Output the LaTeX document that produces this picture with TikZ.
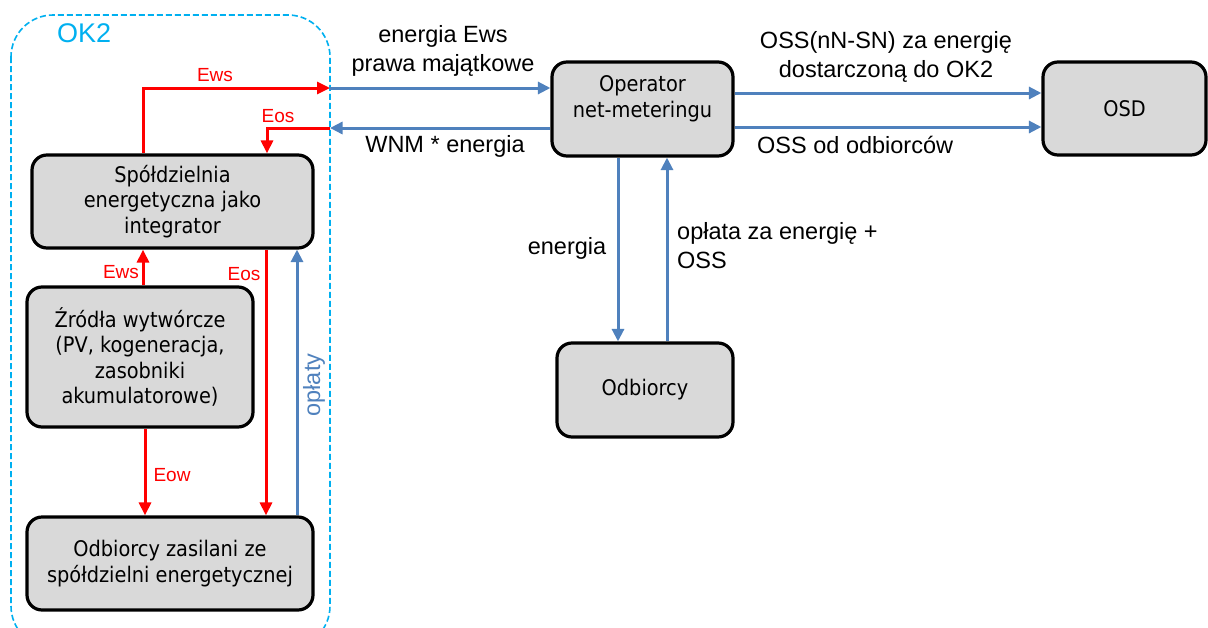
\documentclass[tikz,border=0pt]{standalone}
\usepackage{fontspec}
\setmainfont{Liberation Sans}
\newfontfamily\boxfont{DejaVu Sans Condensed}
\usetikzlibrary{arrows.meta}
\definecolor{boxgray}{HTML}{D9D9D9}
\definecolor{flowblue}{HTML}{4F81BD}
\definecolor{okcyan}{HTML}{00B0F0}
\definecolor{flowred}{HTML}{FF0000}
\tikzset{
  unitbox/.style={draw=black, line width=3.2pt, fill=boxgray, rounded corners=15pt,
    inner sep=0pt, align=center, font=\boxfont\fontsize{21.5}{25.5}\selectfont},
  redflow/.style={draw=flowred, line width=3pt, -{Triangle[length=13pt,width=12pt]}},
  blueflow/.style={draw=flowblue, line width=3pt, -{Triangle[length=12.5pt,width=12pt]}},
  redlabel/.style={text=flowred, font=\fontsize{19}{22}\selectfont, inner sep=0pt},
  flowlabel/.style={text=black, font=\fontsize{23.5}{29}\selectfont, inner sep=0pt, align=center},
}
\begin{document}
\begin{tikzpicture}[x=1pt, y=-1pt]
\useasboundingbox (0,0) rectangle (1208,627);
\fill[white] (0,0) rectangle (1208,627);

% cooperative area OK2
\draw[okcyan, line width=1.6pt, dash pattern=on 6pt off 3pt, rounded corners=42pt]
  (11,15) rectangle (330,648);
\node[text=okcyan, font=\fontsize{27}{30}\selectfont, anchor=base west, inner sep=0pt]
  (oklabel) at (57,42) {OK2};

% boxes
\node[unitbox, minimum width=281pt, minimum height=93pt] (spol) at (172.5,201.5)
  {Spółdzielnia\\energetyczna jako\\integrator};
\node[unitbox, minimum width=226pt, minimum height=140pt] (zr) at (140,357)
  {Źródła wytwórcze\\(PV, kogeneracja,\\zasobniki\\akumulatorowe)};
\node[unitbox, minimum width=286pt, minimum height=93pt] (odz) at (170,563.5)
  {Odbiorcy zasilani ze\\spółdzielni energetycznej};
\node[unitbox, minimum width=181pt, minimum height=94pt] (op) at (642.5,109) {};
\node[font=\boxfont\fontsize{21.5}{25.5}\selectfont, align=center, inner sep=0pt]
  (optext) at (642.5,99) {Operator\\net-meteringu};
\node[unitbox, minimum width=163pt, minimum height=93pt] (osd) at (1124.5,108.5) {OSD};
\node[unitbox, minimum width=176pt, minimum height=94pt] (odb) at (645,390) {Odbiorcy};

% points where the flows cross the OK2 edge
\coordinate (kout) at (330,88);
\coordinate (kin) at (330,128);

% flows inside OK2
\draw[redflow] ([xshift=-29.5pt]spol.north) |- (kout);
\draw[redflow] (kin) -| ([xshift=94.5pt]spol.north);
\draw[redflow] ([xshift=3pt]zr.north) -- ([xshift=-29.5pt]spol.south);
\draw[redflow] ([xshift=5pt]zr.south) -- ([xshift=-25pt]odz.north);
\draw[redflow] ([xshift=93.5pt]spol.south) -- ([xshift=96pt]odz.north);
\draw[blueflow] ([xshift=127pt]odz.north) -- ([xshift=124.5pt]spol.south);

% flows to and from the operator
\draw[blueflow] (kout) -- (op.west |- kout);
\draw[blueflow] (op.west |- kin) -- (kin);
\draw[blueflow] ([yshift=16pt]op.east) -- ([yshift=16pt]op.east -| osd.west);
\draw[blueflow] ([yshift=-18pt]op.east) -- ([yshift=-18pt]op.east -| osd.west);
\draw[blueflow] ([xshift=-24.5pt]op.south) -- ([xshift=-24.5pt]op.south |- odb.north);
\draw[blueflow] ([xshift=24.5pt]op.south |- odb.north) -- ([xshift=24.5pt]op.south);

% labels
\node[redlabel] (lews1) at (215,75) {Ews};
\node[redlabel] (leos1) at (278,116) {Eos};
\node[redlabel] (lews2) at (121,272) {Ews};
\node[redlabel] (leos2) at (244,274) {Eos};
\node[redlabel] (leow) at (172,475) {Eow};
\node[text=flowblue, font=\fontsize{23.5}{26}\selectfont, inner sep=0pt, rotate=90]
  (loplaty) at (314,385) {opłaty};

\node[flowlabel] (lenergiaews) at (443,51) {energia Ews\\prawa majątkowe};
\node[flowlabel, anchor=base] (lwnm) at (445,152) {WNM * energia};
\node[flowlabel] (loss1) at (886,57) {OSS(nN-SN) za energię\\dostarczoną do OK2};
\node[flowlabel, anchor=base west] (loss2) at (757,153) {OSS od odbiorców};
\node[flowlabel, anchor=base] (lenergia) at (567,254) {energia};
\node[flowlabel, align=left, anchor=north west] (loplata) at (677,222)
  {opłata za energię +\\OSS};
\end{tikzpicture}
\end{document}
